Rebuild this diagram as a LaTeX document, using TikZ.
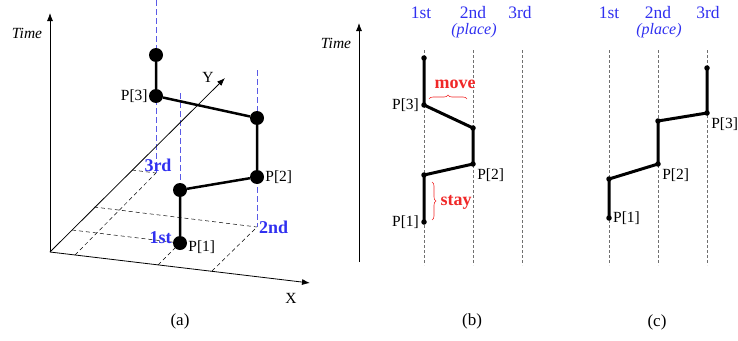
\documentclass[tikz,border=0pt]{standalone}
\usepackage{fontspec}
\setmainfont{Liberation Serif}
\usetikzlibrary{positioning, arrows.meta, calc, decorations.pathreplacing}
\definecolor{plblue}{HTML}{3030F0}
\definecolor{pllane}{HTML}{5A5AE6}
\definecolor{plred}{HTML}{F02828}
\definecolor{plgrey}{HTML}{707070}

\begin{document}
\begin{tikzpicture}[x=1pt, y=-1pt, font=\fontsize{15.5}{18}\selectfont,
        ax/.style={-{Latex[length=8pt,width=6pt]}, line width=0.8pt},
        bigdot/.style={circle, fill=black, minimum size=14pt, inner sep=0pt},
        smalldot/.style={circle, fill=black, minimum size=5.5pt, inner sep=0pt},
        trk/.style={line width=2.5pt},
        lane/.style={draw=pllane, dash pattern=on 6pt off 3pt, line width=0.8pt},
        gline/.style={draw=black, dash pattern=on 4pt off 3pt, line width=0.5pt},
        col/.style={draw=plgrey, dash pattern=on 3pt off 2pt, line width=0.7pt},
        lbl/.style={inner sep=1pt},
        hdr/.style={text=plblue, inner sep=0pt, font=\fontsize{17.5}{20}\selectfont},
        place/.style={text=plblue, inner sep=0pt, font=\fontsize{16}{18}\selectfont\itshape},
        ord/.style={text=plblue, font=\fontsize{18}{20}\selectfont\bfseries, inner sep=1pt},
        tm/.style={font=\fontsize{15.5}{18}\selectfont\itshape},
        note/.style={text=plred, font=\fontsize{18}{20}\selectfont\bfseries},
        sublbl/.style={font=\fontsize{17}{20}\selectfont},
        br/.style={draw=plred, line width=0.6pt, decorate, decoration={brace, amplitude=4pt}}]
      \useasboundingbox (0,0) rectangle (738,340);

      % (a)
      \coordinate (o) at (50,252);
      \coordinate (tEnd) at (50,13);
      \coordinate (xEnd) at (310,283);
      \coordinate (yEnd) at (225,78);
      \coordinate (g1) at (180,243);
      \coordinate (g2) at (257,227);
      \coordinate (g3) at (156,173);
      \draw[lane] (156,0) -- (g3);
      \draw[lane] (180,93) -- (g1);
      \draw[lane] (257,70) -- (g2);
      \draw[gline] (158,265) -- (g1);
      \draw[gline] (72,230) -- (g1);
      \draw[gline] (212,271) -- (g2);
      \draw[gline] (94,207) -- (g2);
      \draw[gline] (75,255) -- (g3);
      \draw[gline] (132,170) -- (g3);
      \draw[ax] (o) -- (tEnd);
      \draw[ax] (o) -- (xEnd);
      \draw[ax] (o) -- (yEnd);
      \node[tm] (aTime) at (27,33) {Time};
      \node[lbl] (xLbl) at (291,298) {X};
      \node[lbl] (yLbl) at (208,77) {Y};
      \node[bigdot] (a1) at (g1) {};
      \node[bigdot] (a2) at (180,190) {};
      \node[bigdot] (a3) at (257,177) {};
      \node[bigdot] (a4) at (257,118) {};
      \node[bigdot] (a5) at (156,96) {};
      \node[bigdot] (a6) at (156,55) {};
      \draw[trk] (a1) -- (a2) -- (a3) -- (a4) -- (a5) -- (a6);
      \node[lbl, right=0pt of a1, yshift=-4pt] (aP1) {P[1]};
      \node[lbl, right=0pt of a3] (aP2) {P[2]};
      \node[lbl, left=0pt of a5] (aP3) {P[3]};
      \node[ord, left=0pt of a1, yshift=5pt] (a1st) {1st};
      \node[ord, right=1pt of g2] (a2nd) {2nd};
      \node[ord, above=0pt of g3, xshift=2pt] (a3rd) {3rd};
      \node[sublbl] (capA) at (180,321) {(a)};

      % (b)
      \coordinate (bo) at (359,262);
      \coordinate (bt) at (359,23);
      \draw[ax] (bo) -- (bt);
      \node[tm] (bTime) at (336,43) {Time};
      \draw[col] (424,50) -- (424,265);
      \draw[col] (473,50) -- (473,265);
      \draw[col] (522,50) -- (522,265);
      \node[hdr] (b1st) at (421,13) {1st};
      \node[hdr] (b2nd) at (473,13) {2nd};
      \node[hdr] (b3rd) at (520,13) {3rd};
      \node[place] (bPlace) at (474,31) {(place)};
      \node[smalldot] (b1) at (424,222) {};
      \node[smalldot] (b2) at (424,175) {};
      \node[smalldot] (b3) at (473,164) {};
      \node[smalldot] (b4) at (473,128) {};
      \node[smalldot] (b5) at (424,105) {};
      \node[smalldot] (b6) at (424,58) {};
      \draw[trk, line width=3pt] (b1.center) -- (b2.center) -- (b3.center) -- (b4.center) -- (b5.center) -- (b6.center);
      \node[lbl, left=1pt of b1] (bP1) {P[1]};
      \node[lbl, below right=1pt and 1pt of b3] (bP2) {P[2]};
      \node[lbl, left=1pt of b5] (bP3) {P[3]};
      \coordinate (mvL) at (429,99);
      \coordinate (mvR) at (467,99);
      \draw[br] (mvL) -- (mvR);
      \node[note] (bMove) at (455,84) {move};
      \coordinate (stT) at (432,182);
      \coordinate (stB) at (432,220);
      \draw[br] (stT) -- (stB);
      \node[note] (bStay) at (456,202) {stay};
      \node[sublbl] (capB) at (472,321) {(b)};

      % (c)
      \draw[col] (609,50) -- (609,265);
      \draw[col] (658,50) -- (658,265);
      \draw[col] (707,50) -- (707,265);
      \node[hdr] (c1st) at (609,13) {1st};
      \node[hdr] (c2nd) at (658,13) {2nd};
      \node[hdr] (c3rd) at (708,13) {3rd};
      \node[place] (cPlace) at (659,31) {(place)};
      \node[smalldot] (c1) at (609,218) {};
      \node[smalldot] (c2) at (609,179) {};
      \node[smalldot] (c3) at (658,164) {};
      \node[smalldot] (c4) at (658,121) {};
      \node[smalldot] (c5) at (707,113) {};
      \node[smalldot] (c6) at (707,68) {};
      \draw[trk, line width=3pt] (c1.center) -- (c2.center) -- (c3.center) -- (c4.center) -- (c5.center) -- (c6.center);
      \node[lbl, right=0pt of c1] (cP1) {P[1]};
      \node[lbl, below right=1pt and 1pt of c3] (cP2) {P[2]};
      \node[lbl, below right=1pt and 1pt of c5] (cP3) {P[3]};
      \node[sublbl] (capC) at (657,322) {(c)};
    \end{tikzpicture}
\end{document}
